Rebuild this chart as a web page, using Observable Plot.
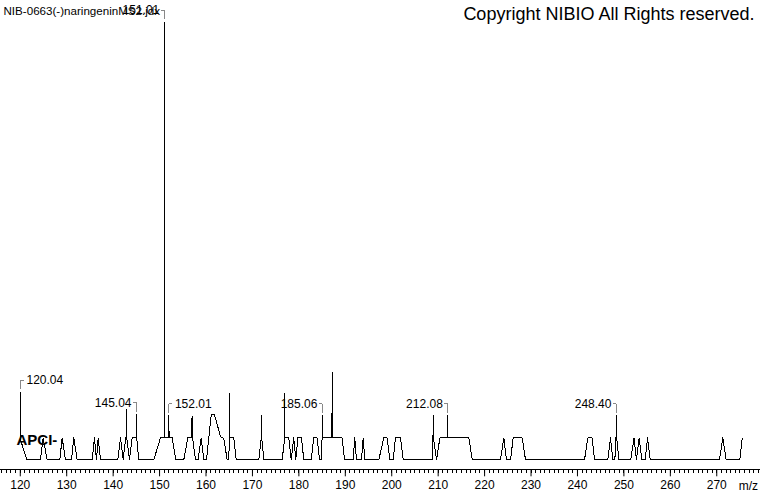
<!DOCTYPE html>
<html>
<head>
<meta charset="utf-8">
<script src="https://cdn.jsdelivr.net/npm/d3@7"></script>
<script src="https://cdn.jsdelivr.net/npm/@observablehq/plot@0.6"></script>
<style>
  html, body { margin: 0; padding: 0; background: #fff; }
  #chart { width: 760px; height: 492px; }
</style>
</head>
<body>
<div id="chart"></div>
<script>
// ---- data (m/z, relative intensity %) ----
const profileMz = [
  120.04, 120.06, 121.44, 124.35, 124.93, 125.79, 128.51, 129.02, 129.74,
  131.03, 131.52, 132.26, 135.49, 135.98, 136.41, 136.78, 137.27,
  141.00, 141.58, 142.16, 142.70, 142.88, 142.90, 142.93, 143.52, 144.10,
  145.01, 145.04, 145.07, 145.52, 148.75, 150.19, 150.98, 151.01, 151.04,
  151.98, 152.01, 152.04, 152.72, 153.50, 155.21, 156.08, 156.95, 156.99,
  157.03, 157.10, 157.73, 158.27, 158.96, 159.52, 160.10, 161.12, 161.83,
  163.12, 163.83, 164.56, 164.95, 165.00, 165.04, 165.98, 166.50,
  171.37, 171.90, 171.95, 172.00, 172.45, 176.40, 176.95, 176.97, 177.00,
  177.83, 178.35, 178.90, 179.34, 179.77, 180.56, 181.06, 182.65, 183.21,
  183.95, 184.44, 184.87, 185.00, 185.06, 185.09, 187.05, 187.08, 187.11,
  187.15, 187.18, 187.21, 189.33, 189.83, 191.70, 192.04, 192.41, 193.49,
  193.85, 194.20, 197.21, 198.29, 199.02, 199.58, 200.31, 200.81, 201.88,
  202.47, 208.71, 208.95, 208.98, 209.05, 209.66, 210.36, 212.05, 212.08,
  212.11, 216.62, 217.35, 223.42, 224.14, 224.72, 225.58, 226.16, 228.10,
  228.81, 241.52, 242.23, 243.17, 243.67, 246.53, 247.11, 247.61, 248.05,
  248.30, 248.40, 248.45, 248.91, 251.47, 252.18, 252.70, 253.28, 253.87,
  254.58, 255.10, 255.66, 270.59, 271.30, 272.03, 274.96, 275.48
];
const profileInt = [
  15.4, 4.5, 0, 0, 5, 0, 0, 5, 0,
  0, 5, 0, 0, 5, 0, 5, 0,
  0, 5, 0, 5, 5, 11.4, 5, 0, 5,
  5, 10.3, 5, 0, 0, 5, 5, 100, 5,
  5, 10.1, 5, 5, 0, 0, 5, 5, 10.1,
  5, 5, 0, 0, 5, 0, 0, 10.3, 10.3,
  5.3, 4.9, 0, 0, 15.2, 5, 5, 0,
  0, 5, 10.1, 5, 0, 0, 5, 15.2, 5,
  5, 0, 5, 0, 5, 5, 0, 0, 5,
  5, 0, 0, 5, 10.1, 5, 5, 10.5, 5,
  5, 20, 5, 5, 0, 0, 5, 0, 0,
  5, 0, 0, 5, 5, 0, 0, 5, 5,
  0, 0, 7.4, 10.1, 4.5, 0, 5, 5, 10.1,
  5, 5, 0, 0, 5, 0, 0, 5, 5,
  0, 0, 5, 5, 0, 0, 5, 0, 0,
  5, 10.1, 5, 0, 0, 5, 0, 5, 0,
  0, 5, 0, 0, 5, 0, 0, 5
];

const labelMz   = [120.04, 145.04, 151.01, 152.01, 185.06, 212.08, 248.40];
const labelInt  = [15.4, 10.3, 100, 10.1, 10.1, 10.1, 10.1];
const labelText = ["120.04", "145.04", "151.01", "152.01", "185.06", "212.08", "248.40"];
const labelSide = ["right", "left", "left", "right", "left", "left", "left"];

const xTicks = [120, 130, 140, 150, 160, 170, 180, 190, 200, 210, 220, 230, 240, 250, 260, 270];
const minorTicks = d3.range(116, 280);

const titleText = "NIB-0663(-)naringeninMS2.jdx";
const copyrightText = "Copyright NIBIO All Rights reserved.";
const ionText = "APCI-";
const xUnitText = "m/z";

// ---- layout ----
const X_DOMAIN = [115.74, 279.42];
const Y_MIN = -2.285;
const FONT = "'Liberation Sans', Arial, Helvetica, sans-serif";

const profile = profileMz.map((mz, i) => ({mz, intensity: profileInt[i]}));
const labels = labelMz.map((mz, i) => ({mz, top: labelInt[i], text: labelText[i], side: labelSide[i]}));
const GAP = 0.7, RISE = 2.7, ARM = 0.75;

const chart = Plot.plot({
  width: 760,
  height: 492,
  marginLeft: 0,
  marginRight: 0,
  marginTop: 21.7,
  marginBottom: 22.7,
  x: {domain: X_DOMAIN, axis: null},
  y: {domain: [Y_MIN, 100], axis: null},
  style: {fontFamily: FONT, fontSize: "12px", background: "#fff", color: "#000", overflow: "visible"},
  marks: [
    Plot.ruleY([Y_MIN], {stroke: "#000", strokeWidth: 1, shapeRendering: "crispEdges"}),
    Plot.ruleX(minorTicks, {x: d => d, y1: Y_MIN, y2: Y_MIN - 0.9, stroke: "#000", shapeRendering: "crispEdges"}),
    Plot.axisX({ticks: xTicks, tickSize: 7, tickPadding: 4, fontSize: 12, label: null, stroke: "#000", fill: "#000"}),
    Plot.line(profile, {x: "mz", y: "intensity", stroke: "#000", strokeWidth: 1, shapeRendering: "crispEdges"}),
    Plot.link(labels, {x1: "mz", x2: "mz", y1: d => d.top + GAP, y2: d => d.top + RISE, stroke: "#888", strokeWidth: 1, shapeRendering: "crispEdges"}),
    Plot.link(labels, {x1: "mz", x2: d => d.mz + (d.side === "right" ? ARM : -ARM), y1: d => d.top + RISE, y2: d => d.top + RISE, stroke: "#888", strokeWidth: 1, shapeRendering: "crispEdges"}),
    Plot.text(labels.filter(d => d.side === "right"), {x: "mz", y: d => d.top + RISE, text: "text", textAnchor: "start", lineAnchor: "middle", dx: 6, fontSize: 12, fill: "#000"}),
    Plot.text(labels.filter(d => d.side === "left"), {x: "mz", y: d => d.top + RISE, text: "text", textAnchor: "end", lineAnchor: "middle", dx: -5, fontSize: 12, fill: "#000"}),
    Plot.text([titleText], {frameAnchor: "top-left", textAnchor: "start", lineAnchor: "middle", dx: 3, dy: -10.7, fontSize: 11.6, fill: "#000"}),
    Plot.text([copyrightText], {frameAnchor: "top-right", textAnchor: "end", lineAnchor: "middle", dx: -6, dy: -7.5, fontSize: 18, fill: "#000"}),
    Plot.text([ionText], {frameAnchor: "bottom-left", textAnchor: "start", lineAnchor: "middle", dx: 16, dy: -29.3, fontSize: 15, fontWeight: "bold", fill: "#000"}),
    Plot.text([xUnitText], {frameAnchor: "bottom-right", textAnchor: "end", lineAnchor: "middle", dx: -2.5, dy: 16.5, fontSize: 12, fill: "#000"})
  ]
});
document.getElementById("chart").appendChild(chart);
</script>
</body>
</html>
